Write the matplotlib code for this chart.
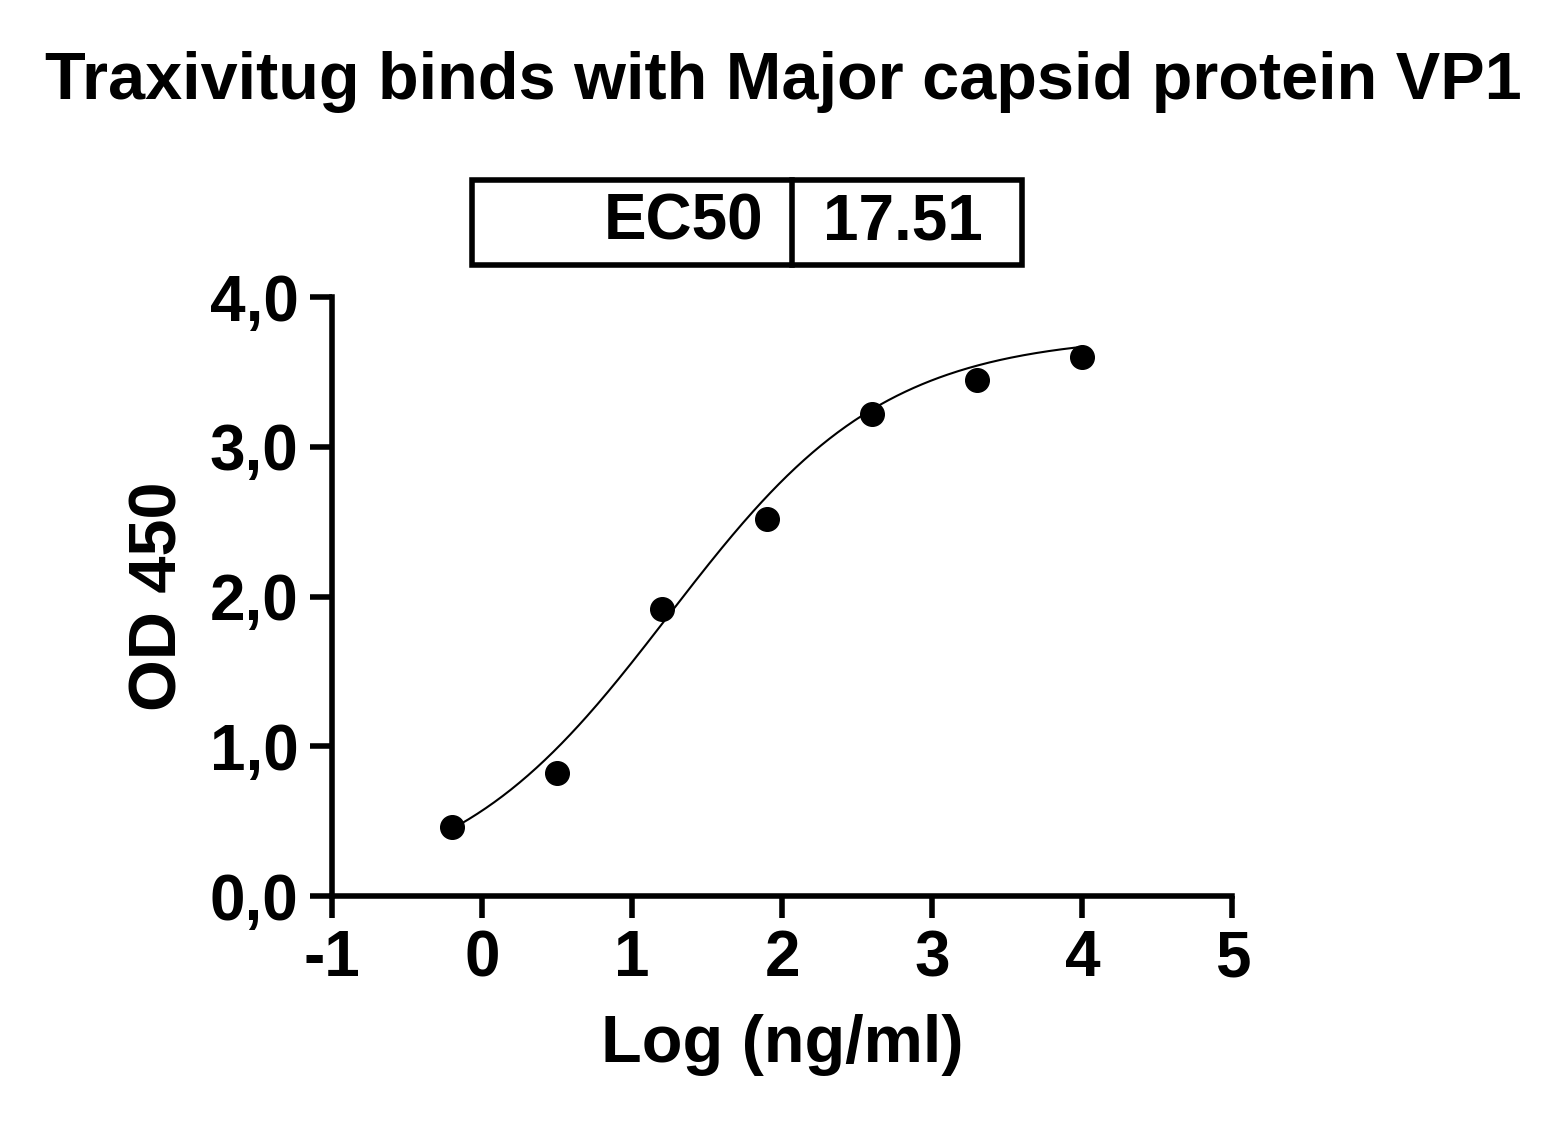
import numpy as np
import matplotlib
matplotlib.use("Agg")
import matplotlib.pyplot as plt
from matplotlib.patches import Rectangle

plt.rcParams['font.family'] = ['Liberation Sans', 'DejaVu Sans']
plt.rcParams['font.weight'] = 'bold'
plt.rcParams['axes.unicode_minus'] = False

log_conc = [-0.2, 0.5, 1.2, 1.9, 2.6, 3.3, 4.0]
od450 = [0.46, 0.82, 1.92, 2.52, 3.22, 3.45, 3.60]
ec50 = 17.51
fit_bottom, fit_top, fit_hill = 0.0, 3.75, 0.6
xticks = [-1, 0, 1, 2, 3, 4, 5]
yticks = [0, 1, 2, 3, 4]
ytick_labels = ["0,0", "1,0", "2,0", "3,0", "4,0"]

fig = plt.figure(figsize=(15.66, 11.43), dpi=100)
ax = fig.add_axes([0.212, 0.216, 0.575, 0.524])

xs = np.linspace(min(log_conc), max(log_conc), 300)
ys = fit_bottom + (fit_top - fit_bottom) / (1 + 10 ** ((np.log10(ec50) - xs) * fit_hill))
ax.plot(xs, ys, color='black', lw=1.5)
ax.plot(log_conc, od450, 'o', color='black', ms=17)

ax.set_xlim(-1, 5)
ax.set_ylim(0, 4)
ax.set_xticks(xticks)
ax.set_yticks(yticks)
ax.set_xticklabels([str(t) for t in xticks])
ax.set_yticklabels(ytick_labels)
for s in ['top', 'right']:
    ax.spines[s].set_visible(False)
for s in ['left', 'bottom']:
    ax.spines[s].set_linewidth(4)
ax.tick_params(width=4, length=16, labelsize=46, pad=8)
for lab in ax.get_xticklabels() + ax.get_yticklabels():
    lab.set_fontweight('bold')
ax.set_xlabel("Log (ng/ml)", fontsize=48, fontweight='bold', labelpad=18)
ax.set_ylabel("OD 450", fontsize=48, fontweight='bold', labelpad=14)

fig.text(0.5, 0.928, "Traxivitug binds with Major capsid protein VP1",
         ha='center', va='center', fontsize=48, fontweight='bold')

# EC50 table
x0, x1, xm = 472/1566, 1022/1566, 792/1566
y0, y1 = 1-265/1143, 1-180/1143
fig.add_artist(Rectangle((x0, y0), x1-x0, y1-y0, transform=fig.transFigure,
                         fill=False, lw=4, ec='black'))
fig.add_artist(plt.Line2D([xm, xm], [y0, y1], transform=fig.transFigure, lw=4, color='black'))
fig.text(xm - 0.018, (y0+y1)/2, "EC50", ha='right', va='center', fontsize=46, fontweight='bold')
fig.text(x1 - 0.025, (y0+y1)/2, f"{ec50:.2f}", ha='right', va='center', fontsize=46, fontweight='bold')

fig.savefig("out.png", dpi=100, facecolor='white')
